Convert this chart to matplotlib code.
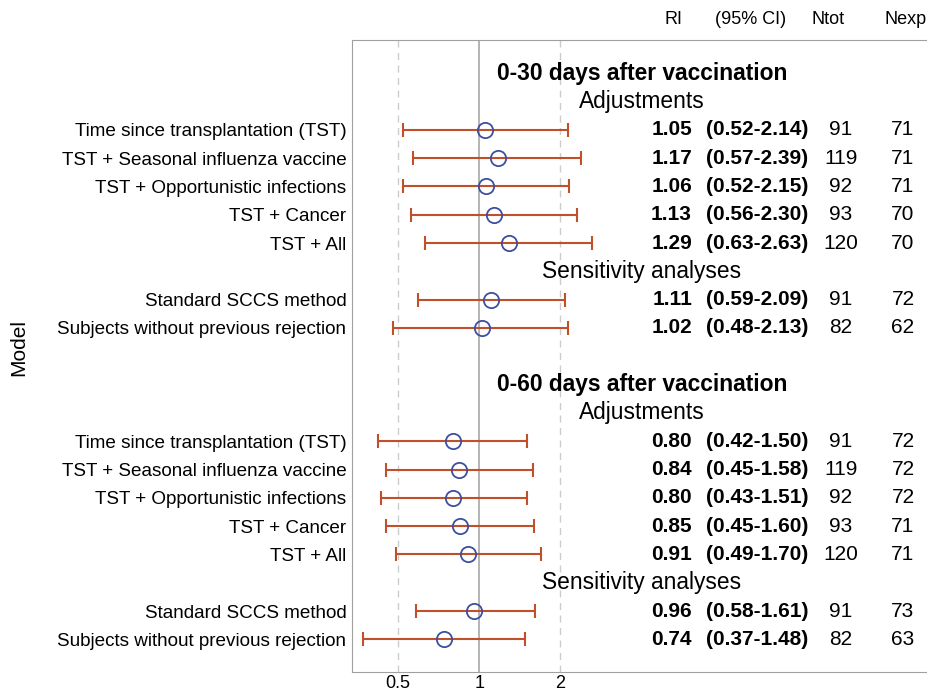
import matplotlib.pyplot as plt
import matplotlib.transforms as mtransforms
import numpy as np

plt.rcParams['font.family'] = ['Liberation Sans', 'DejaVu Sans']

labels = ["Time since transplantation (TST)", "TST + Seasonal influenza vaccine",
          "TST + Opportunistic infections", "TST + Cancer", "TST + All",
          "Standard SCCS method", "Subjects without previous rejection"]

ri_30 = [1.05, 1.17, 1.06, 1.13, 1.29, 1.11, 1.02]
lo_30 = [0.52, 0.57, 0.52, 0.56, 0.63, 0.59, 0.48]
hi_30 = [2.14, 2.39, 2.15, 2.30, 2.63, 2.09, 2.13]
ntot_30 = [91, 119, 92, 93, 120, 91, 82]
nexp_30 = [71, 71, 71, 70, 70, 72, 62]

ri_60 = [0.80, 0.84, 0.80, 0.85, 0.91, 0.96, 0.74]
lo_60 = [0.42, 0.45, 0.43, 0.45, 0.49, 0.58, 0.37]
hi_60 = [1.50, 1.58, 1.51, 1.60, 1.70, 1.61, 1.48]
ntot_60 = [91, 119, 92, 93, 120, 91, 82]
nexp_60 = [72, 72, 72, 71, 71, 73, 63]

# row positions (0 = top)
rows_30 = [2, 3, 4, 5, 6, 8, 9]
rows_60 = [13, 14, 15, 16, 17, 19, 20]
headings = [(0, "0-30 days after vaccination", True), (1, "Adjustments", False),
            (7, "Sensitivity analyses", False),
            (11, "0-60 days after vaccination", True), (12, "Adjustments", False),
            (18, "Sensitivity analyses", False)]

fig = plt.figure(figsize=(9.27, 6.94), dpi=100)
ax = fig.add_axes([352/927, 22/694, 1 - 352/927, 632/694])

ax.set_xscale('log')
ax.set_xlim(0.337, 46)
ax.set_ylim(21.15, -1.17)

ax.axvline(1, color='#a8a8a8', lw=1.2, zorder=1)
for v in [0.5, 2]:
    ax.axvline(v, color='#cccccc', lw=1, ls=(0, (5, 4)), zorder=1)

ec = '#c0502a'
mc = '#3d4f9f'
for ri, lo, hi, rows in [(ri_30, lo_30, hi_30, rows_30), (ri_60, lo_60, hi_60, rows_60)]:
    ri = np.array(ri)
    err = [ri - np.array(lo), np.array(hi) - ri]
    ax.errorbar(ri, rows, xerr=err, fmt='none', ecolor=ec, elinewidth=1.5,
                capsize=4.7, capthick=1.5, zorder=2)
    ax.plot(ri, rows, 'o', ms=11, mfc='none', mec=mc, mew=1.3, zorder=3)

ax.set_xticks([0.5, 1, 2])
ax.set_xticklabels(['0.5', '1', '2'])
ax.minorticks_off()
ax.tick_params(axis='x', length=0, labelsize=13, pad=2)

ax.set_yticks(rows_30 + rows_60)
ax.set_yticklabels(labels + labels)
ax.tick_params(axis='y', length=0, labelsize=13.6, pad=4)

for s in ['left', 'top', 'bottom']:
    ax.spines[s].set_color('#a0a0a0')
ax.spines['right'].set_visible(False)

fig.text(19/927, 0.5, "Model", rotation=90, ha='center', va='center', fontsize=15)

trans = mtransforms.blended_transform_factory(fig.transFigure, ax.transData)
for r, t, bold in headings:
    ax.text(642/927, r, t, transform=trans, ha='center', va='center',
            fontsize=16.4, fontweight='bold' if bold else 'normal')

for ri, lo, hi, nt, ne, rows in [(ri_30, lo_30, hi_30, ntot_30, nexp_30, rows_30),
                                 (ri_60, lo_60, hi_60, ntot_60, nexp_60, rows_60)]:
    for i, r in enumerate(rows):
        ax.text(692/927, r, f"{ri[i]:.2f}", transform=trans, ha='right', va='center',
                fontsize=15, fontweight='bold')
        ax.text(706/927, r, f"({lo[i]:.2f}-{hi[i]:.2f})", transform=trans, ha='left',
                va='center', fontsize=15, fontweight='bold')
        ax.text(841/927, r, str(nt[i]), transform=trans, ha='center', va='center', fontsize=15)
        ax.text(903/927, r, str(ne[i]), transform=trans, ha='center', va='center', fontsize=15)

for x, t in [(674, "RI"), (751, "(95% CI)"), (828, "Ntot"), (906, "Nexp")]:
    fig.text(x/927, 1 - 20/694, t, ha='center', va='center', fontsize=13)

fig.savefig('out.png', dpi=100)
